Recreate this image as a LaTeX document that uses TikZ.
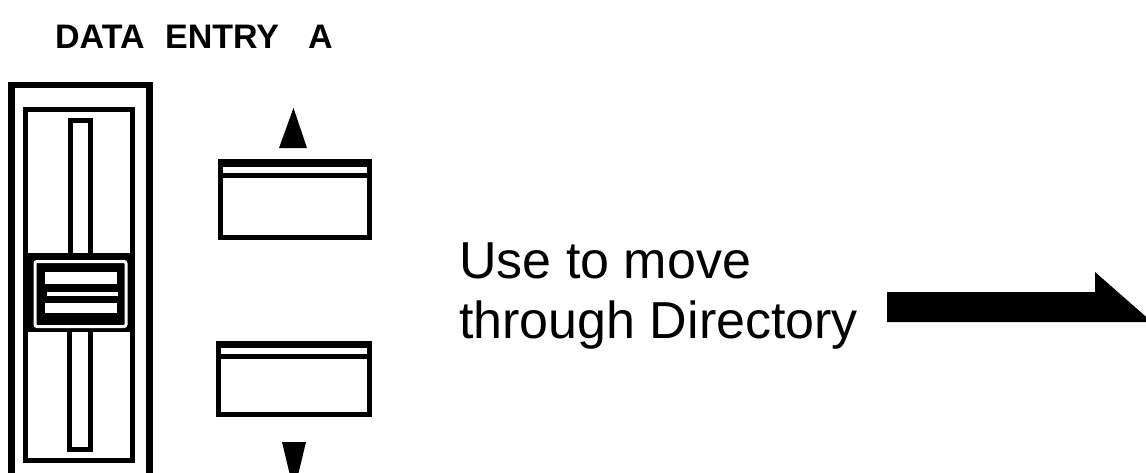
\documentclass[tikz,border=0pt]{standalone}
\usepackage{fontspec}
\setmainfont{Liberation Sans}
\begin{document}
\begin{tikzpicture}[x=1pt,y=-1pt,
  lbl/.style={inner sep=0pt,anchor=base west,font=\fontsize{52}{60}\selectfont},
  hdr/.style={inner sep=0pt,anchor=base west,font=\bfseries\fontsize{34}{40}\selectfont},
  thick box/.style={draw=black,line width=6.5pt},
  frame/.style={draw=black,line width=5pt},
  solid/.style={fill=black,draw=none}]
\useasboundingbox (0,0) rectangle (1146,472);
\fill[white] (0,0) rectangle (1146,472);
\begin{scope}
\clip (0,0) rectangle (1146,472);
% heading
\node[hdr] (hdata) at (55,48) {DATA};
\node[hdr] (hentry) at (165,48) {ENTRY};
\node[hdr] (ha) at (308,48) {A};
% outer housing
\draw[thick box] (11.5,500) -- (11.5,85) -- (149.5,85) -- (149.5,500);
% inner frame
\draw[frame] (25.5,109.5) rectangle (132.5,460.5);
% slots
\draw[frame] (70.5,255) -- (70.5,120) -- (90.5,120) -- (90.5,255);
\draw[frame] (69.5,330) -- (69.5,449) -- (90.5,449) -- (90.5,330);
% knob
\fill[black] (25,253) rectangle (133,332);
\draw[white,line width=3pt,rounded corners=2pt] (35,261.5) rectangle (126,326.5);
\fill[white] (45,272) rectangle (117,284);
\fill[white] (47,292) rectangle (118,296);
\fill[white] (45,303) rectangle (117,313);
% upper button
\draw[frame] (220.5,161.5) rectangle (369.5,237.5);
\fill[black] (218,159) rectangle (372,166.5);
\draw[black,line width=4.5pt] (220,175.5) -- (370,175.5);
% lower button
\draw[frame] (218.5,343.5) rectangle (369,414.5);
\fill[black] (216,341) rectangle (371.5,348);
\draw[black,line width=4.5pt] (218,356.5) -- (369,356.5);
% up / down triangles
\fill[black] (279,148) -- (307,148) -- (293.5,108) -- cycle;
\fill[black] (282,442) -- (306,442) -- (294,492) -- cycle;
% label
\node[lbl] (use) at (459,278) {Use to move};
\node[lbl] (through) at (459,338) {through Directory};
% harpoon arrow
\coordinate (astart) at (887,292);
\fill[black] (astart) -- (1095,292) -- (1095,272) -- (1152,322) -- (887,322) -- cycle;
\end{scope}
\end{tikzpicture}
\end{document}
